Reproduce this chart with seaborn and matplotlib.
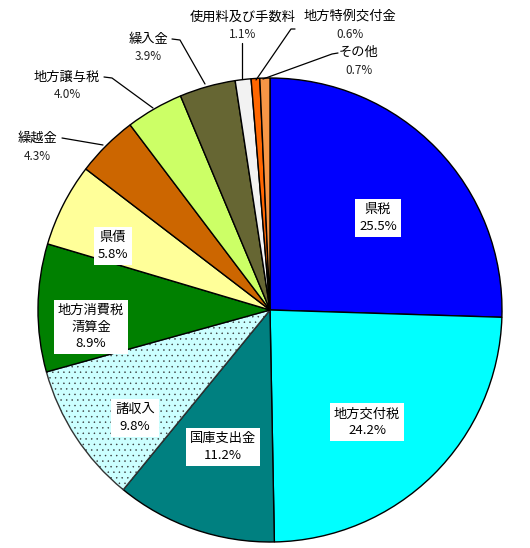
import matplotlib
matplotlib.use("Agg")
import matplotlib.pyplot as plt
import seaborn as sns

sns.set_theme(style="white")
plt.rcParams['font.family'] = ['Noto Sans CJK JP', 'DejaVu Sans']
plt.rcParams['hatch.linewidth'] = 0.3

categories = ["県税", "地方交付税", "国庫支出金", "諸収入", "地方消費税\n清算金", "県債",
              "繰越金", "地方譲与税", "繰入金", "使用料及び手数料", "地方特例交付金", "その他"]
values = [25.5, 24.2, 11.2, 9.8, 8.9, 5.8, 4.3, 4.0, 3.9, 1.1, 0.6, 0.7]
colors = ["#0000FF", "#00FFFF", "#008080", "#CCFFFF", "#008000", "#FFFF99",
          "#CC6600", "#CCFF66", "#666633", "#F2F2F2", "#FF6600", "#F79646"]

W, H = 530, 548
fig = plt.figure(figsize=(W / 100, H / 100), dpi=100)
ax = fig.add_axes([0, 0, 1, 1])

cx, cy, r = 270, H - 310, 232
wedges, _ = ax.pie(values, colors=colors, startangle=90, counterclock=False,
                   center=(cx, cy), radius=r, frame=True,
                   wedgeprops=dict(edgecolor="black", linewidth=1.0))
w = wedges[3]
w.set_hatch('...')
if hasattr(w, "set_hatchcolor"):
    w.set_hatchcolor("#555555")
else:
    w.set_edgecolor("#333333")
ax.set_xlim(0, W)
ax.set_ylim(0, H)
ax.set_aspect('equal')
ax.axis('off')

def py(y):
    return H - y

# inside labels: (index -> x, y of box center)
inside = {0: (378, 218), 1: (367, 422), 2: (223, 447), 3: (135, 418),
          4: (91, 327), 5: (113, 246)}
for i, (x, y) in inside.items():
    txt = f"{categories[i]}\n{values[i]:.1f}%"
    ax.text(x, py(y), txt, ha='center', va='center', fontsize=9.5,
            linespacing=1.35, color='black',
            bbox=dict(boxstyle='square,pad=0.3', facecolor='white', edgecolor='none'))

# outside labels: (index -> name position, leader line points)
outside = {
    6: ((37, 138), [(62, 138), (103, 145)]),
    7: ((67, 77), [(104, 77), (112, 78), (153, 108)]),
    8: ((148, 39), [(172, 39), (180, 40), (205, 84)]),
    9: ((243, 17), [(242, 43), (242, 79)]),
    10: ((350, 16), [(295, 29), (291, 29), (256, 80)]),
    11: ((359, 52), [(338, 53), (332, 54), (263, 79)]),
}
for i, ((x, y), pts) in outside.items():
    ax.text(x, py(y), categories[i], ha='center', va='center', fontsize=9.5, color='black')
    ax.text(x, py(y + 18), f"{values[i]:.1f}%", ha='center', va='center', fontsize=8.5,
            color='#222222')
    ax.plot([p[0] for p in pts], [py(p[1]) for p in pts], color='black',
            linewidth=0.9, zorder=5)

fig.savefig("out.png", dpi=100)
